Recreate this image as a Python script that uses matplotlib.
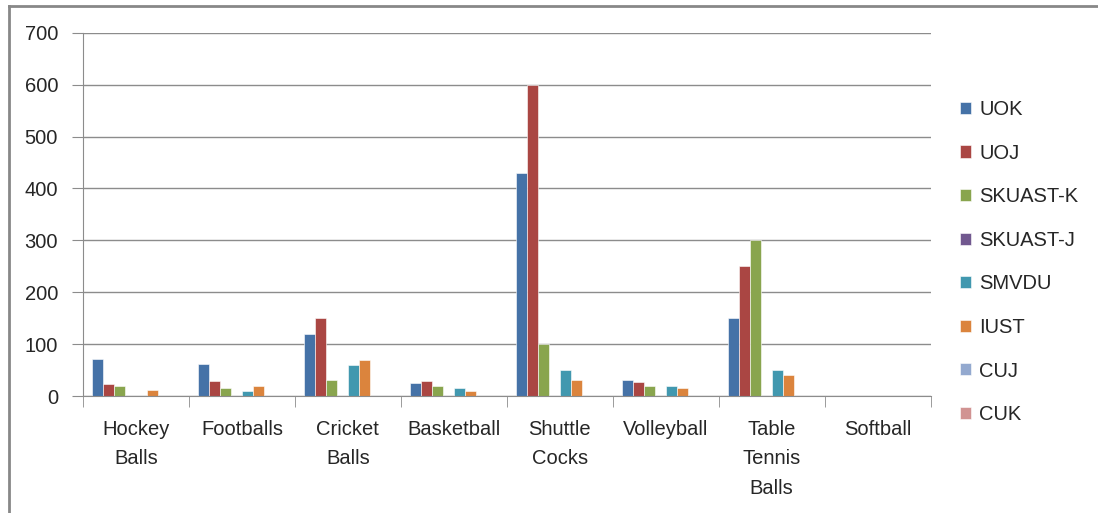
import matplotlib.pyplot as plt
import numpy as np
from matplotlib.lines import Line2D

plt.rcParams['font.family'] = ['Liberation Sans', 'DejaVu Sans']

# data
categories = ['Hockey\nBalls', 'Footballs', 'Cricket\nBalls', 'Basketball',
              'Shuttle\nCocks', 'Volleyball', 'Table\nTennis\nBalls', 'Softball']
series = ['UOK', 'UOJ', 'SKUAST-K', 'SKUAST-J', 'SMVDU', 'IUST', 'CUJ', 'CUK']
uok = [71, 62, 120, 26, 430, 30, 150, 0]
uoj = [24, 29, 150, 29, 600, 28, 250, 0]
skuast_k = [20, 15, 30, 20, 100, 20, 300, 0]
skuast_j = [0, 0, 0, 0, 0, 0, 0, 0]
smvdu = [0, 10, 60, 15, 50, 20, 50, 0]
iust = [12, 20, 70, 9, 30, 15, 40, 0]
cuj = [0, 0, 0, 0, 0, 0, 0, 0]
cuk = [0, 0, 0, 0, 0, 0, 0, 0]
values = [uok, uoj, skuast_k, skuast_j, smvdu, iust, cuj, cuk]
colors = ['#4572A7', '#AA4643', '#89A54E', '#71588F',
          '#4198AF', '#DB843D', '#93A9CF', '#D19392']

fig = plt.figure(figsize=(10.98, 5.13), dpi=100)
ax = fig.add_axes([0.0756, 0.228, 0.772, 0.708])

x = np.arange(len(categories))
w = 0.103
for i, (name, vals, c) in enumerate(zip(series, values, colors)):
    ax.bar(x + (i - 3.5) * w, vals, width=w, color=c, label=name,
           edgecolor='white', linewidth=0.4)

txt = '#262626'
grid = '#8c8c8c'
ax.set_xlim(-0.5, len(categories) - 0.5)
ax.set_ylim(0, 700)
ax.set_yticks(range(0, 701, 100))
ax.yaxis.grid(True, color=grid, linewidth=1)
ax.set_axisbelow(True)
for s in ['top', 'right']:
    ax.spines[s].set_visible(False)
for s in ['left', 'bottom']:
    ax.spines[s].set_color(grid)
ax.tick_params(axis='y', colors=grid, labelcolor=txt, labelsize=14.5,
               length=8, pad=10)

ax.set_xticks(x)
ax.set_xticklabels(categories, linespacing=1.72)
ax.set_xticks(np.arange(-0.5, len(categories)), minor=True)
ax.tick_params(axis='x', which='major', length=0, labelsize=14.5,
               labelcolor=txt, pad=17)
ax.tick_params(axis='x', which='minor', length=8, color=grid)

leg = ax.legend(loc='upper left', bbox_to_anchor=(1.025, 0.837), frameon=False,
                fontsize=14.5, handlelength=0.55, handleheight=0.55,
                handletextpad=0.4, labelspacing=1.22, borderaxespad=0)
for t in leg.get_texts():
    t.set_color(txt)

# outer chart border (left and top visible)
fig.add_artist(Line2D([0.0085, 0.0085], [0, 0.988], color='#888888', linewidth=2,
                      transform=fig.transFigure))
fig.add_artist(Line2D([0.0085, 1.0], [0.988, 0.988], color='#888888', linewidth=2,
                      transform=fig.transFigure))

fig.savefig('out.png', dpi=100)
